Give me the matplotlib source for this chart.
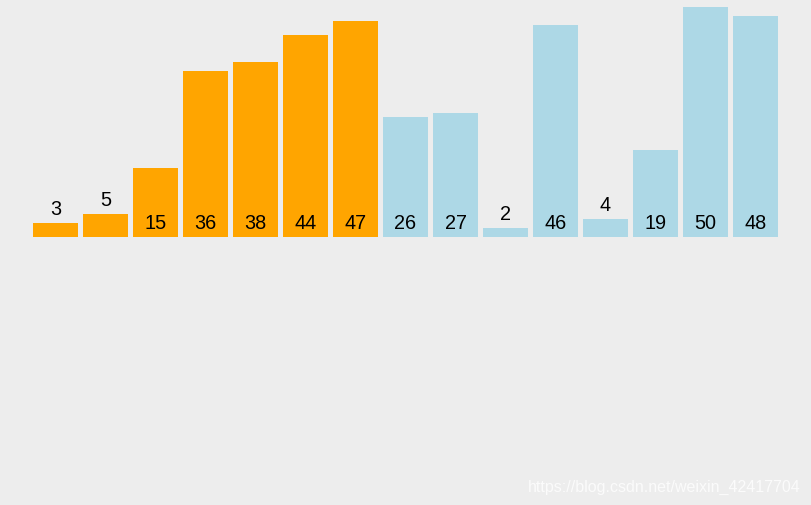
import matplotlib
matplotlib.use("Agg")
import matplotlib.pyplot as plt

values = [3, 5, 15, 36, 38, 44, 47, 26, 27, 2, 46, 4, 19, 50, 48]
colors = ["orange"] * 7 + ["lightblue"] * 8
labels = [str(v) for v in values]

W, H = 811, 505
fig = plt.figure(figsize=(W / 100, H / 100), dpi=100)
fig.patch.set_facecolor("#ededed")
ax = fig.add_axes([0, 0, 1, 1])
ax.set_facecolor("#ededed")

pitch = 50.0
ppu = 4.6
base_px = 237
x0 = (33 + 22.5) / pitch
ax.set_xlim(-x0, (W - 55.5) / pitch)
ax.set_ylim(-(H - base_px) / ppu, base_px / ppu)
ax.axis("off")

xs = list(range(len(values)))
ax.bar(xs, values, width=0.9, color=colors, linewidth=0)

off = 8 / ppu
for x, v, lab in zip(xs, values, labels):
    y = v + off if v < 10 else off
    ax.text(x, y, lab, ha="center", va="baseline", fontsize=14.3,
            family=["Liberation Sans", "DejaVu Sans"], color="black")

fig.text(801 / W, 1 - 492 / H, "https://blog.csdn.net/weixin_42417704",
         ha="right", va="baseline", fontsize=11.5, color="#fbfbfb",
         family=["Liberation Sans", "DejaVu Sans"])

fig.savefig("out.png", dpi=100, facecolor=fig.get_facecolor())
